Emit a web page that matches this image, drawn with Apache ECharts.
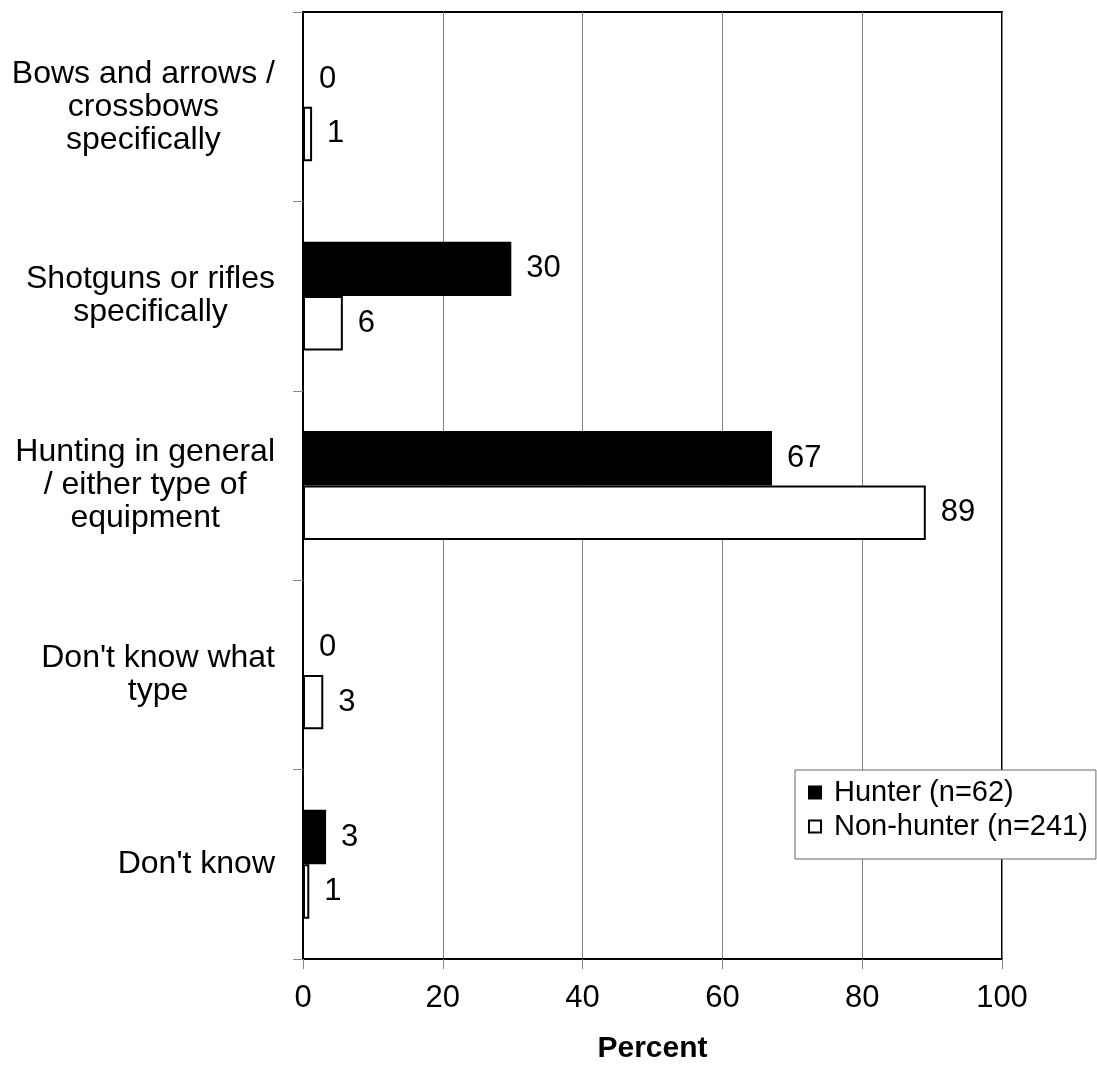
<!DOCTYPE html>
<html>
<head>
<meta charset="utf-8">
<script src="https://cdn.jsdelivr.net/npm/echarts@6/dist/echarts.min.js"></script>
<style>
html,body{margin:0;padding:0;background:#fff;}
#chart{width:1097px;height:1065px;}
</style>
</head>
<body>
<div id="chart"></div>
<script>
var categories = [
  "Bows and arrows /\ncrossbows\nspecifically",
  "Shotguns or rifles\nspecifically",
  "Hunting in general\n/ either type of\nequipment",
  "Don't know what\ntype",
  "Don't know"
];
var seriesNames = ["Hunter (n=62)", "Non-hunter (n=241)"];
var hunterValues = [0, 29.8, 67.1, 0, 3.3];
var nonHunterValues = [1.3, 5.7, 89.1, 2.9, 0.9];
var xTicks = [0, 20, 40, 60, 80, 100];
var xAxisTitle = "Percent";

var FONT = "Liberation Sans, Arial, Helvetica, sans-serif";
var chart = echarts.init(document.getElementById('chart'), null, {renderer: 'canvas'});
var labelCfg = {
  show: true,
  position: 'right',
  distance: 15,
  color: '#000',
  fontFamily: FONT,
  fontSize: 31,
  formatter: function (p) { return String(Math.round(p.value)); }
};
chart.setOption({
  animation: false,
  backgroundColor: '#fff',
  grid: {
    left: 303, right: 95, top: 12, bottom: 106,
    containLabel: false,
    outerBoundsMode: 'none',
    show: true, borderColor: '#000', borderWidth: 2, backgroundColor: 'transparent'
  },
  legend: {
    left: 795, top: 770,
    orient: 'vertical',
    data: seriesNames,
    icon: 'rect',
    itemWidth: 12, itemHeight: 12,
    itemGap: 5,
    backgroundColor: '#fff',
    borderColor: '#666',
    borderWidth: 1,
    padding: [8, 8, 18, 13],
    textStyle: {fontFamily: FONT, fontSize: 29, color: '#000', padding: [0, 0, 0, 8]}
  },
  xAxis: {
    type: 'value',
    min: xTicks[0], max: xTicks[xTicks.length - 1], interval: 20,
    name: xAxisTitle,
    nameLocation: 'middle',
    nameGap: 75,
    nameTextStyle: {fontFamily: FONT, fontSize: 30, fontWeight: 'bold', color: '#000'},
    axisLine: {show: true, lineStyle: {color: '#000', width: 2}},
    axisTick: {show: true, length: 10, lineStyle: {color: '#888', width: 1}},
    axisLabel: {fontFamily: FONT, fontSize: 31, color: '#000', margin: 24},
    splitLine: {show: true, lineStyle: {color: '#808080', width: 1}}
  },
  yAxis: {
    type: 'category',
    inverse: true,
    data: categories,
    axisLine: {show: true, lineStyle: {color: '#000', width: 2}},
    axisTick: {show: true, length: 10, lineStyle: {color: '#888', width: 1}},
    axisLabel: {
      fontFamily: FONT, fontSize: 32, color: '#000', margin: 28,
      lineHeight: 33,
      formatter: function (v) {
        return v.split('\n').map(function (l) { return '{c|' + l + '}'; }).join('\n');
      },
      rich: {c: {align: 'center', fontFamily: FONT, fontSize: 32, lineHeight: 33, color: '#000'}}
    },
    splitLine: {show: false}
  },
  series: [
    {
      name: seriesNames[0], type: 'bar', data: hunterValues,
      barGap: '0%', barCategoryGap: '42.5%',
      itemStyle: {color: '#000', borderColor: '#000', borderWidth: 2},
      label: labelCfg
    },
    {
      name: seriesNames[1], type: 'bar', data: nonHunterValues,
      barGap: '0%', barCategoryGap: '42.5%',
      itemStyle: {color: '#fff', borderColor: '#000', borderWidth: 2},
      label: labelCfg
    }
  ]
});
</script>
</body>
</html>
